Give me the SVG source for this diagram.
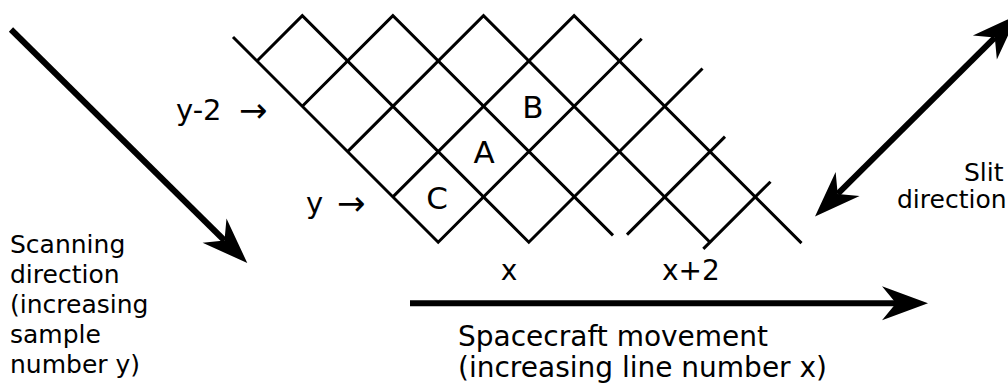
<svg xmlns="http://www.w3.org/2000/svg" width="1008" height="388" viewBox="0 0 1008 388">
<style>
.grid{fill:none;stroke:#000;stroke-width:3;stroke-linejoin:miter;stroke-linecap:butt}
.arr{fill:none;stroke:#000;stroke-width:6;stroke-linecap:butt}
text{font-family:"DejaVu Sans","Liberation Sans",sans-serif;fill:#000}
.t{font-size:25px}
.b{font-size:28px}
.lbl{font-size:29px}
.ra{font-size:34px}
.big{font-size:31px}
.xl{font-size:28px}
</style>
<defs>
<marker id="ah" markerUnits="userSpaceOnUse" markerWidth="60" markerHeight="40" viewBox="-20 -20 60 40" refX="0" refY="0" orient="auto-start-reverse" overflow="visible">
<path d="M32,0 L-14,-17 L0,0 L-14,17 Z" fill="#000"/>
</marker>
</defs>
<rect width="1008" height="388" fill="#fff"/>
<g id="grid" class="grid">
<polyline points="233,37 438.2,242.2 641.7,38.7"/>
<polyline points="257,61 302.3,15.7 528.8,242.2 702.5,68.5"/>
<polyline points="302.3,106.3 392.9,15.7 613,235.4"/>
<polyline points="347.6,151.6 483.5,15.7 710,242.2"/>
<polyline points="392.9,196.9 574.1,15.7 801.5,243.1"/>
<line x1="627" y1="234.6" x2="725" y2="136.6"/>
<line x1="703.3" y1="248.9" x2="770.5" y2="181.7"/>
</g>
<g id="cells">
<text class="big" x="484" y="163" text-anchor="middle">A</text>
<text class="big" x="533" y="118" text-anchor="middle">B</text>
<text class="big" x="437" y="209" text-anchor="middle">C</text>
</g>
<g id="row-labels">
<text class="lbl" x="176" y="120">y-2</text>
<text class="ra" x="239" y="122">→</text>
<text class="lbl" x="306" y="213">y</text>
<text class="ra" x="337" y="215">→</text>
</g>
<g id="col-labels">
<text class="xl" x="509" y="280" text-anchor="middle">x</text>
<text class="xl" x="662" y="280">x+2</text>
</g>
<g id="connectors">
<line class="arr" x1="11" y1="29.5" x2="224.5" y2="240.5" marker-end="url(#ah)"/>
<line class="arr" x1="837.7" y1="193.9" x2="994.8" y2="37.6" marker-start="url(#ah)" marker-end="url(#ah)"/>
<line class="arr" x1="410" y1="303.3" x2="896" y2="303.3" marker-end="url(#ah)"/>
</g>
<g id="scan-label" class="t">
<text x="10" y="253">Scanning</text>
<text x="10" y="283">direction</text>
<text x="10" y="313">(increasing</text>
<text x="10" y="343">sample</text>
<text x="10" y="373">number y)</text>
</g>
<g id="slit-label" class="t">
<text x="964" y="181">Slit</text>
<text x="897" y="208">direction</text>
</g>
<g id="move-label" class="b">
<text x="458" y="346">Spacecraft movement</text>
<text x="458" y="377">(increasing line number x)</text>
</g>
</svg>
